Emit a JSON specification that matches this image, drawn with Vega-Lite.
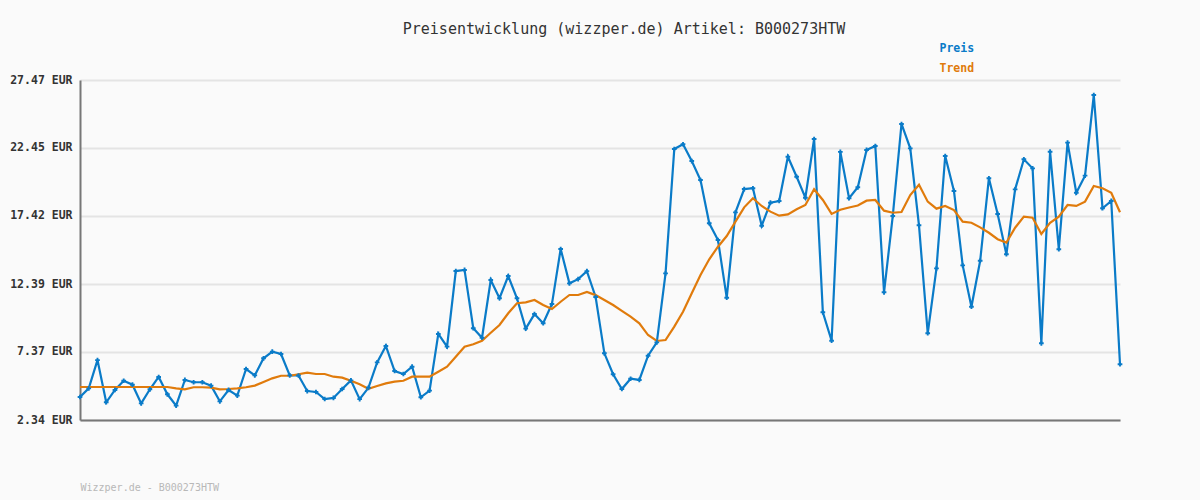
{
  "$schema": "https://vega.github.io/schema/vega-lite/v6.json",
  "width": 1040,
  "height": 340,
  "autosize": {"type": "none"},
  "padding": {"left": 80, "top": 80, "right": 80, "bottom": 80},
  "background": "#fafafa",
  "config": {"view": {"stroke": null}},
  "title": {
    "text": "Preisentwicklung (wizzper.de) Artikel: B000273HTW",
    "font": "DejaVu Sans Mono",
    "fontSize": 15,
    "fontWeight": "normal",
    "color": "#333333",
    "anchor": "middle",
    "offset": 6,
    "dx": 24
  },
  "data": {"values": [
    {"i":0,"Preis":4.04,"Trend":4.78},{"i":1,"Preis":4.68,"Trend":4.78},{"i":2,"Preis":6.77,"Trend":4.78},{"i":3,"Preis":3.65,"Trend":4.78},{"i":4,"Preis":4.56,"Trend":4.78},
    {"i":5,"Preis":5.24,"Trend":4.78},{"i":6,"Preis":4.95,"Trend":4.78},{"i":7,"Preis":3.57,"Trend":4.78},{"i":8,"Preis":4.61,"Trend":4.78},{"i":9,"Preis":5.52,"Trend":4.78},
    {"i":10,"Preis":4.24,"Trend":4.78},{"i":11,"Preis":3.40,"Trend":4.68},{"i":12,"Preis":5.30,"Trend":4.61},{"i":13,"Preis":5.13,"Trend":4.76},{"i":14,"Preis":5.13,"Trend":4.76},
    {"i":15,"Preis":4.88,"Trend":4.73},{"i":16,"Preis":3.72,"Trend":4.61},{"i":17,"Preis":4.56,"Trend":4.63},{"i":18,"Preis":4.14,"Trend":4.68},{"i":19,"Preis":6.11,"Trend":4.76},
    {"i":20,"Preis":5.64,"Trend":4.88},{"i":21,"Preis":6.90,"Trend":5.15},{"i":22,"Preis":7.39,"Trend":5.42},{"i":23,"Preis":7.22,"Trend":5.61},{"i":24,"Preis":5.64,"Trend":5.61},
    {"i":25,"Preis":5.63,"Trend":5.72},{"i":26,"Preis":4.48,"Trend":5.84},{"i":27,"Preis":4.41,"Trend":5.74},{"i":28,"Preis":3.89,"Trend":5.74},{"i":29,"Preis":3.97,"Trend":5.54},
    {"i":30,"Preis":4.63,"Trend":5.47},{"i":31,"Preis":5.27,"Trend":5.24},{"i":32,"Preis":3.88,"Trend":4.98},{"i":33,"Preis":4.72,"Trend":4.65},{"i":34,"Preis":6.60,"Trend":4.85},
    {"i":35,"Preis":7.81,"Trend":5.05},{"i":36,"Preis":5.96,"Trend":5.17},{"i":37,"Preis":5.74,"Trend":5.24},{"i":38,"Preis":6.28,"Trend":5.54},{"i":39,"Preis":4.02,"Trend":5.54},
    {"i":40,"Preis":4.51,"Trend":5.54},{"i":41,"Preis":8.70,"Trend":5.91},{"i":42,"Preis":7.76,"Trend":6.28},{"i":43,"Preis":13.35,"Trend":7.02},{"i":44,"Preis":13.43,"Trend":7.76},
    {"i":45,"Preis":9.12,"Trend":7.94},{"i":46,"Preis":8.42,"Trend":8.20},{"i":47,"Preis":12.69,"Trend":8.79},{"i":48,"Preis":11.34,"Trend":9.36},{"i":49,"Preis":12.98,"Trend":10.23},
    {"i":50,"Preis":11.34,"Trend":10.97},{"i":51,"Preis":9.09,"Trend":11.04},{"i":52,"Preis":10.17,"Trend":11.21},{"i":53,"Preis":9.49,"Trend":10.84},{"i":54,"Preis":10.91,"Trend":10.54},
    {"i":55,"Preis":14.98,"Trend":11.08},{"i":56,"Preis":12.44,"Trend":11.58},{"i":57,"Preis":12.75,"Trend":11.58},{"i":58,"Preis":13.34,"Trend":11.80},{"i":59,"Preis":11.43,"Trend":11.57},
    {"i":60,"Preis":7.27,"Trend":11.21},{"i":61,"Preis":5.72,"Trend":10.84},{"i":62,"Preis":4.63,"Trend":10.40},{"i":63,"Preis":5.39,"Trend":9.98},{"i":64,"Preis":5.30,"Trend":9.49},
    {"i":65,"Preis":7.09,"Trend":8.62},{"i":66,"Preis":8.08,"Trend":8.18},{"i":67,"Preis":13.18,"Trend":8.25},{"i":68,"Preis":22.37,"Trend":9.24},{"i":69,"Preis":22.72,"Trend":10.34},
    {"i":70,"Preis":21.48,"Trend":11.71},{"i":71,"Preis":20.08,"Trend":13.06},{"i":72,"Preis":16.88,"Trend":14.22},{"i":73,"Preis":15.64,"Trend":15.15},{"i":74,"Preis":11.38,"Trend":15.94},
    {"i":75,"Preis":17.69,"Trend":17.00},{"i":76,"Preis":19.41,"Trend":18.06},{"i":77,"Preis":19.47,"Trend":18.73},{"i":78,"Preis":16.70,"Trend":18.16},{"i":79,"Preis":18.40,"Trend":17.74},
    {"i":80,"Preis":18.53,"Trend":17.44},{"i":81,"Preis":21.80,"Trend":17.54},{"i":82,"Preis":20.32,"Trend":17.91},{"i":83,"Preis":18.77,"Trend":18.23},{"i":84,"Preis":23.11,"Trend":19.39},
    {"i":85,"Preis":10.30,"Trend":18.60},{"i":86,"Preis":8.20,"Trend":17.57},{"i":87,"Preis":22.16,"Trend":17.88},{"i":88,"Preis":18.73,"Trend":18.05},{"i":89,"Preis":19.54,"Trend":18.19},
    {"i":90,"Preis":22.30,"Trend":18.55},{"i":91,"Preis":22.59,"Trend":18.60},{"i":92,"Preis":11.78,"Trend":17.81},{"i":93,"Preis":17.42,"Trend":17.66},{"i":94,"Preis":24.22,"Trend":17.71},
    {"i":95,"Preis":22.42,"Trend":18.97},{"i":96,"Preis":16.73,"Trend":19.73},{"i":97,"Preis":8.75,"Trend":18.48},{"i":98,"Preis":13.55,"Trend":17.96},{"i":99,"Preis":21.85,"Trend":18.16},
    {"i":100,"Preis":19.27,"Trend":17.86},{"i":101,"Preis":13.77,"Trend":17.00},{"i":102,"Preis":10.71,"Trend":16.92},{"i":103,"Preis":14.11,"Trend":16.58},{"i":104,"Preis":20.21,"Trend":16.18},
    {"i":105,"Preis":17.57,"Trend":15.70},{"i":106,"Preis":14.59,"Trend":15.45},{"i":107,"Preis":19.39,"Trend":16.55},{"i":108,"Preis":21.61,"Trend":17.37},{"i":109,"Preis":20.94,"Trend":17.29},
    {"i":110,"Preis":8.01,"Trend":16.09},{"i":111,"Preis":22.17,"Trend":16.92},{"i":112,"Preis":14.96,"Trend":17.37},{"i":113,"Preis":22.84,"Trend":18.23},{"i":114,"Preis":19.14,"Trend":18.16},
    {"i":115,"Preis":20.40,"Trend":18.48},{"i":116,"Preis":26.36,"Trend":19.64},{"i":117,"Preis":17.99,"Trend":19.47},{"i":118,"Preis":18.53,"Trend":19.14},{"i":119,"Preis":6.46,"Trend":17.69}
  ]},
  "transform": [{"fold": ["Preis", "Trend"], "as": ["Serie", "Wert"]}],
  "encoding": {
    "x": {
      "field": "i", "type": "quantitative",
      "scale": {"domain": [0, 119], "nice": false, "zero": false},
      "axis": {
        "labels": false, "ticks": false, "grid": false,
        "domainColor": "#777777", "domainWidth": 2,
        "title": "Wizzper.de - B000273HTW",
        "titleFont": "DejaVu Sans Mono", "titleFontSize": 10, "titleFontWeight": "normal",
        "titleColor": "#b8b8b8", "titleAnchor": "start", "titleAlign": "left",
        "titleX": 0, "titleY": 70, "titleBaseline": "alphabetic"
      }
    },
    "y": {
      "field": "Wert", "type": "quantitative",
      "scale": {"domain": [2.34, 27.47], "nice": false, "zero": false},
      "axis": {
        "values": [2.34, 7.37, 12.39, 17.42, 22.45, 27.47],
        "labelExpr": "format(datum.value, '.2f') + ' EUR'",
        "labelFont": "DejaVu Sans Mono", "labelFontSize": 11.5, "labelFontWeight": "bold",
        "labelColor": "#333333", "labelPadding": 8,
        "ticks": false, "title": null,
        "domainColor": "#777777", "domainWidth": 2,
        "gridColor": "#e4e4e4", "gridWidth": 2
      }
    },
    "color": {
      "field": "Serie", "type": "nominal",
      "scale": {"domain": ["Preis", "Trend"], "range": ["#0a7bc8", "#e07b0c"]},
      "legend": {
        "title": null, "orient": "none", "legendX": 848, "legendY": -37,
        "symbolSize": 0, "symbolOpacity": 0, "symbolStrokeWidth": 0, "labelOffset": 0,
        "labelFont": "DejaVu Sans Mono", "labelFontSize": 11.5, "labelFontWeight": "bold",
        "rowPadding": 7,
        "encode": {"labels": {"update": {"fill": {"signal": "datum.value === 'Preis' ? '#0a7bc8' : '#e07b0c'"}}}}
      }
    }
  },
  "layer": [
    {"mark": {"type": "line", "strokeWidth": 2.2}},
    {
      "transform": [{"filter": "datum.Serie === 'Preis'"}],
      "mark": {"type": "point", "shape": "cross", "filled": true, "size": 22, "opacity": 1}
    }
  ]
}
